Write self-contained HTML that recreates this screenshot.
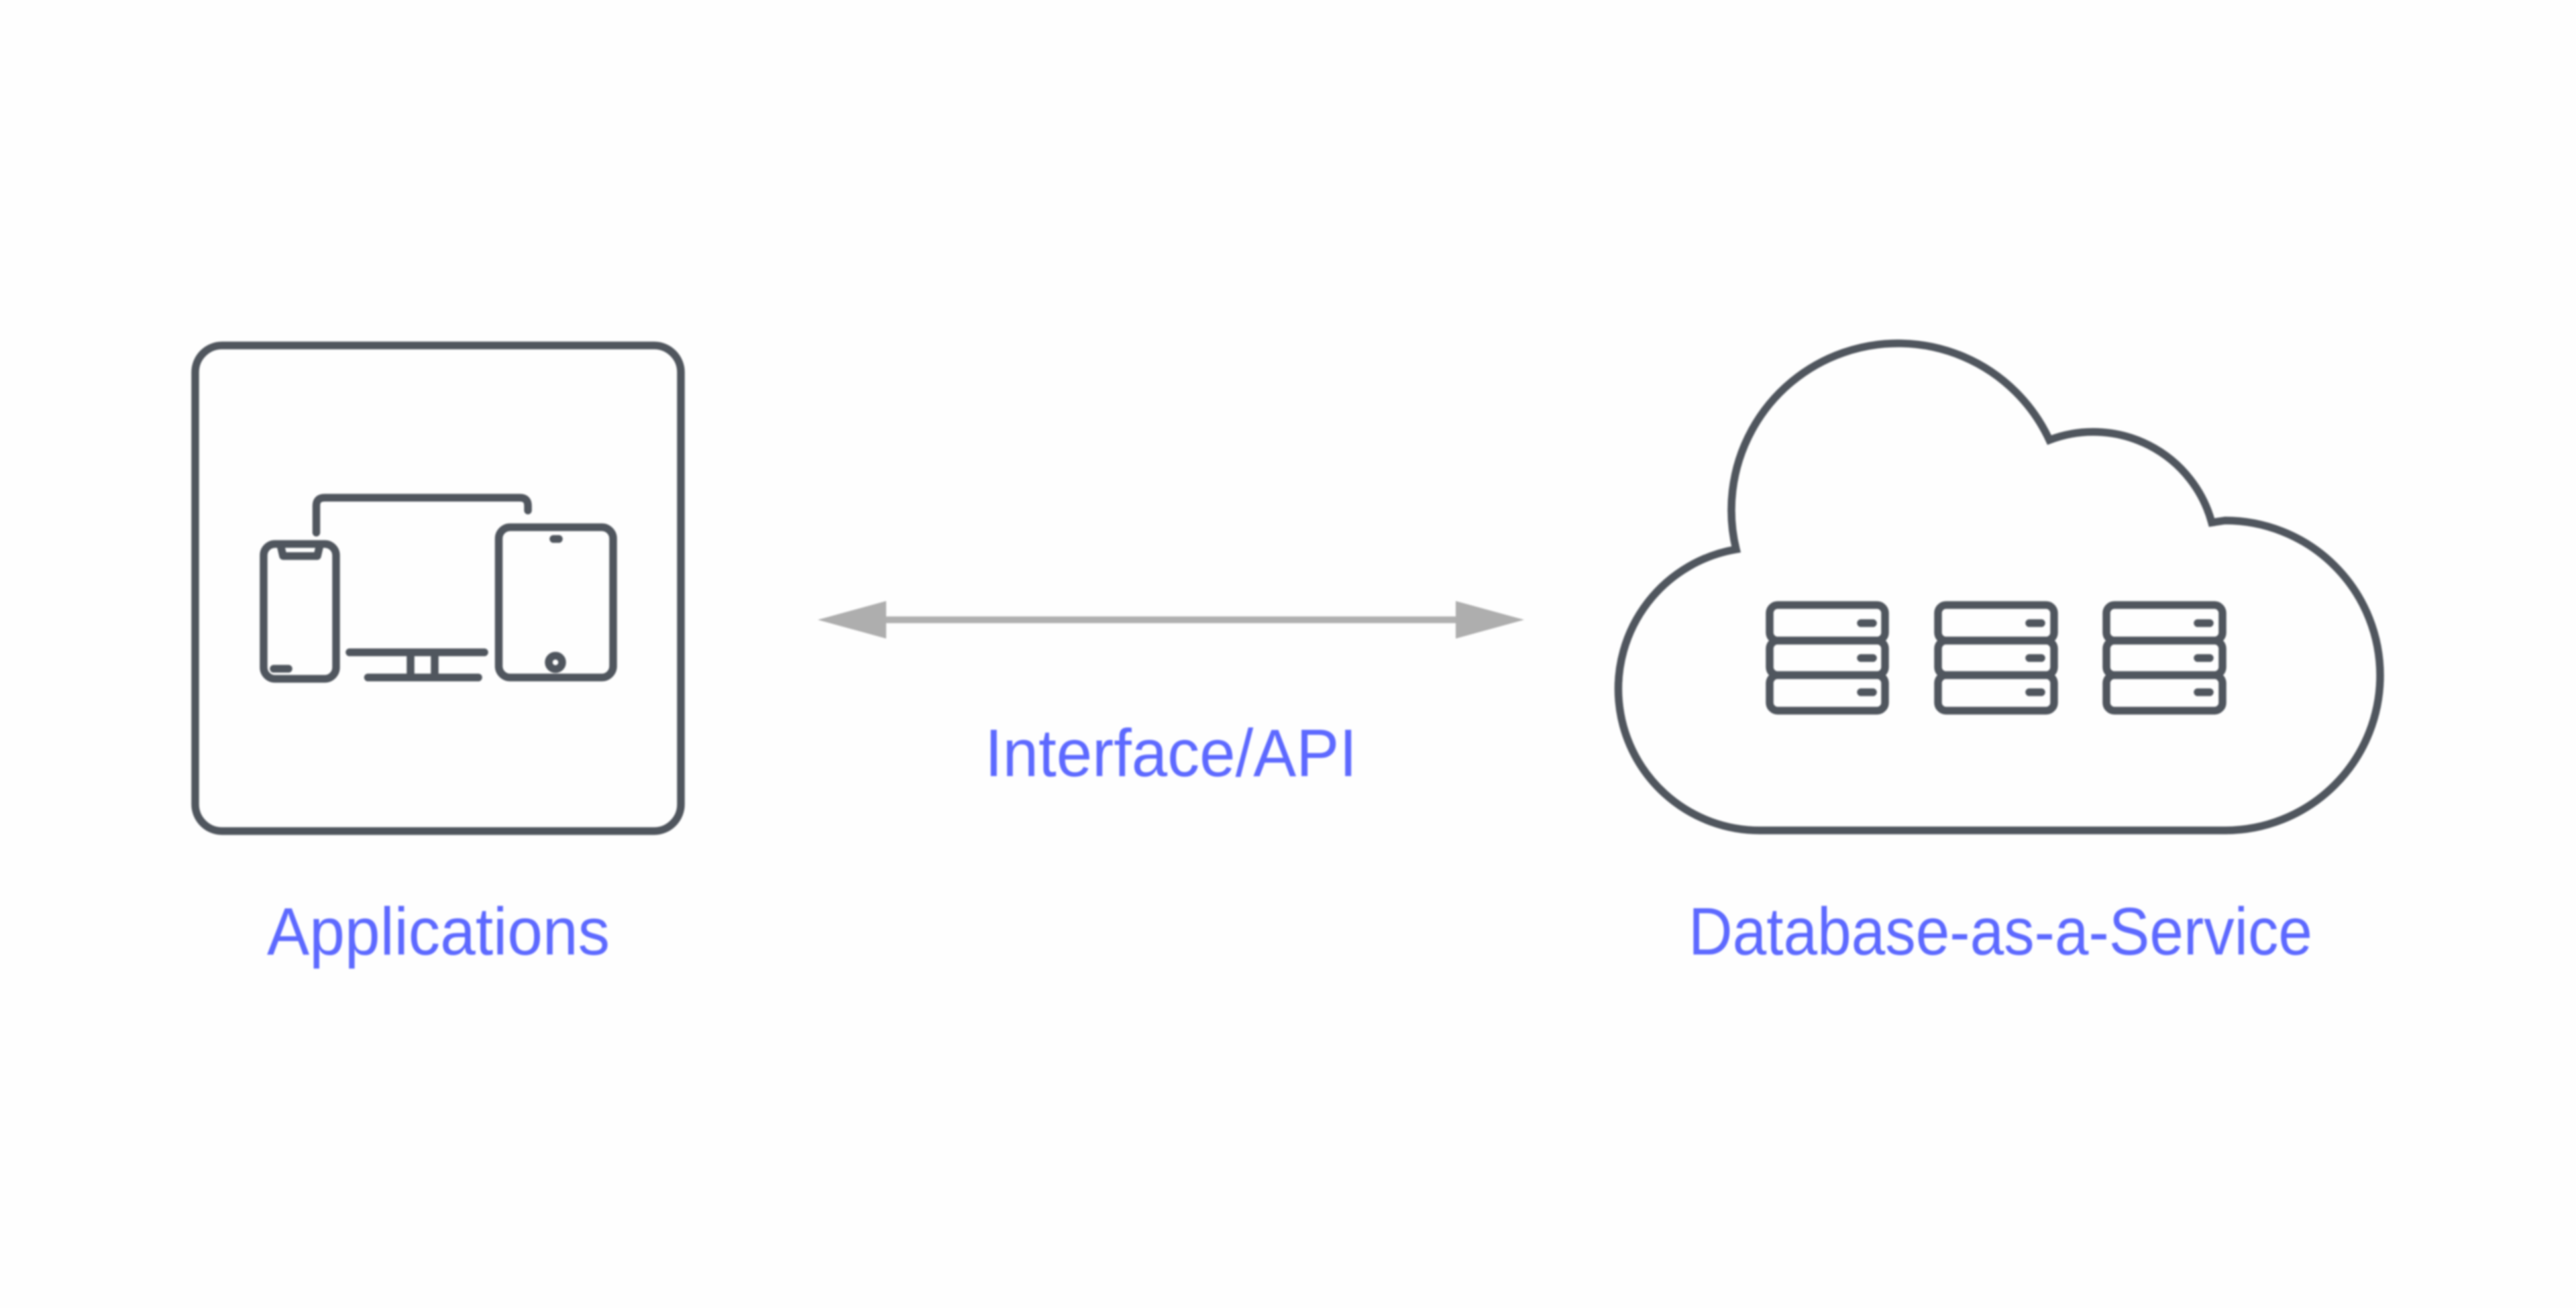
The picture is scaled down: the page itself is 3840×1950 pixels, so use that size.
<!DOCTYPE html>
<html>
<head>
<meta charset="utf-8">
<title>Database-as-a-Service</title>
<style>
html,body{margin:0;padding:0;background:#fefefe;width:3840px;height:1950px;overflow:hidden}
svg{display:block;filter:blur(1.2px)}
text{font-family:"Liberation Sans",sans-serif;font-size:100px;fill:#5d69ff}
</style>
</head>
<body>
<svg xmlns="http://www.w3.org/2000/svg" width="3840" height="1950" viewBox="0 0 3840 1950">
<g fill="none" stroke="#50565e" stroke-width="11.5" stroke-linecap="round" stroke-linejoin="round">
  <rect x="291" y="515" width="724" height="724" rx="40"/>
  <rect x="393" y="811" width="108" height="201" rx="17"/>
  <path d="M418 812L422 829H473L477 812"/>
  <path d="M408 997H430"/>
  <path d="M471.500 794V754Q471.500 742 484 742H775Q787 742 787 754V761"/>
  <path d="M521 972.500H722M548.500 1010H713M612 972.500V1010M648 972.500V1010"/>
  <rect x="743.500" y="786" width="170.500" height="224" rx="17"/>
  <path d="M825 803.500H833"/>
  <circle cx="828" cy="987.500" r="10"/>
  <path stroke-linejoin="miter" d="M2625 1238A211 211 0 0 1 2588 819A248.500 248.500 0 0 1 3055 656A183 183 0 0 1 3297 779L3317 776A231 231 0 0 1 3317 1238Z"/>
  <g>
    <rect x="2638" y="902" width="172" height="53" rx="12"/>
    <rect x="2638" y="955" width="172" height="51.500" rx="12"/>
    <rect x="2638" y="1006.500" width="172" height="53" rx="12"/>
    <path d="M2774 929H2792M2774 981H2792M2774 1032H2792"/>
  </g>
  <g>
    <rect x="2889" y="902" width="173" height="53" rx="12"/>
    <rect x="2889" y="955" width="173" height="51.500" rx="12"/>
    <rect x="2889" y="1006.500" width="173" height="53" rx="12"/>
    <path d="M3025 929H3043M3025 981H3043M3025 1032H3043"/>
  </g>
  <g>
    <rect x="3140" y="902" width="173" height="53" rx="12"/>
    <rect x="3140" y="955" width="173" height="51.500" rx="12"/>
    <rect x="3140" y="1006.500" width="173" height="53" rx="12"/>
    <path d="M3276 929H3294M3276 981H3294M3276 1032H3294"/>
  </g>
</g>
<path d="M1321 924H2170" fill="none" stroke="#b0b0b0" stroke-width="10"/>
<path d="M1219 924L1321 896V952Z M2272 924L2170 896V952Z" fill="#aeaeae"/>
<text x="1468" y="1157" textLength="555" lengthAdjust="spacingAndGlyphs">Interface/API</text>
<text x="398" y="1423" textLength="511" lengthAdjust="spacingAndGlyphs">Applications</text>
<text x="2517" y="1423" textLength="930" lengthAdjust="spacingAndGlyphs">Database-as-a-Service</text>
</svg>
</body>
</html>
